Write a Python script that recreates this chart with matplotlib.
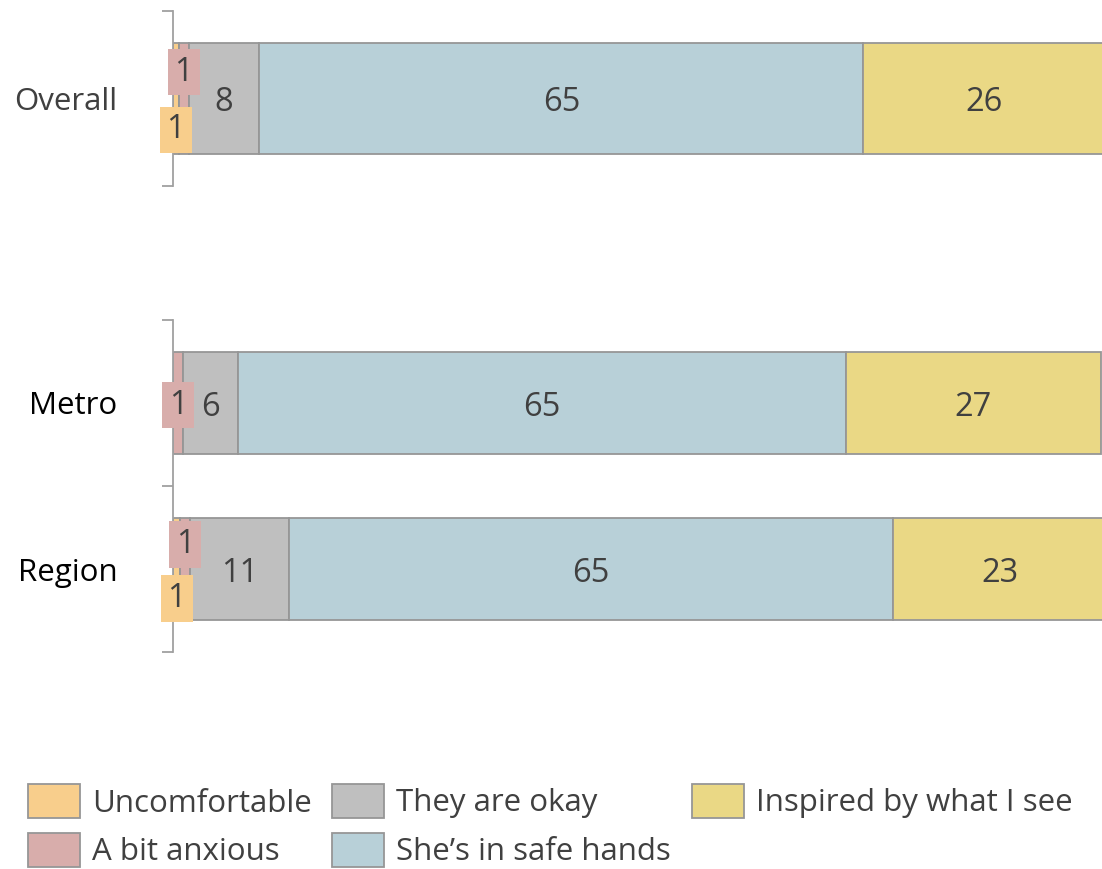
import matplotlib
matplotlib.use("Agg")
import matplotlib.pyplot as plt
import numpy as np

plt.rcParams['font.family'] = ['Open Sans', 'DejaVu Sans']

series = ["Uncomfortable", "A bit anxious", "They are okay", "She\u2019s in safe hands", "Inspired by what I see"]
colors = ["#F8CE8C", "#D8ADAB", "#BFBFBF", "#B8D0D8", "#EAD885"]

top_cats = ["Overall"]
top_vals = {
    "Uncomfortable": [0.6],
    "A bit anxious": [1.1],
    "They are okay": [7.6],
    "She\u2019s in safe hands": [65.0],
    "Inspired by what I see": [26.0],
}

bot_cats = ["Metro", "Region"]
bot_vals = {
    "Uncomfortable": [0.0, 0.8],
    "A bit anxious": [1.1, 1.0],
    "They are okay": [5.9, 10.7],
    "She\u2019s in safe hands": [65.45, 65.0],
    "Inspired by what I see": [27.4, 23.0],
}

W, H = 1102, 869
fig = plt.figure(figsize=(W / 100, H / 100), dpi=100)

FS = 22.5
DFS = 23.5
TXT = "#404040"
EDGE = "#969696"

def px_rect(x0, y0, x1, y1):
    return [x0 / W, 1 - y1 / H, (x1 - x0) / W, (y1 - y0) / H]

ax1 = fig.add_axes(px_rect(173, 11, 1102, 186))
ax2 = fig.add_axes(px_rect(173, 320, 1102, 652))

def draw(ax, cats, vals, bar_h, label_colors):
    n = len(cats)
    ypos = np.arange(n)[::-1]
    left = np.zeros(n)
    handles = []
    for s, c in zip(series, colors):
        v = np.array(vals[s], dtype=float)
        h = ax.barh(ypos, v, left=left, height=bar_h, color=c, edgecolor=EDGE,
                    linewidth=1.3, label=s, clip_on=True)
        handles.append(h)
        left = left + v
    # labels
    for i in range(n):
        small = [k for k, s in enumerate(series) if 0 < vals[s][i] < 3]
        lft = 0.0
        for k, s in enumerate(series):
            v = vals[s][i]
            if v <= 0:
                continue
            cx = lft + v / 2
            lbl = f"{round(v):d}"
            if v < 3:
                if len(small) > 1:
                    order = small.index(k)
                    dy = -0.165 if order == 0 else 0.16
                    dy = dy * (bar_h / 0.62)
                else:
                    dy = 0
                ax.annotate(lbl, (cx, ypos[i] + dy), xytext=(0, -1.5), textcoords="offset points",
                            ha="center", va="center", fontsize=DFS, color=TXT,
                            annotation_clip=False,
                            bbox=dict(boxstyle="square,pad=0.2", fc=colors[k], ec="none"))
            else:
                ax.annotate(lbl, (cx, ypos[i]), xytext=(0, -3), textcoords="offset points",
                            ha="center", va="center", fontsize=DFS, color=TXT)
            lft += v
    ax.set_xlim(0, 100)
    ax.set_ylim(-0.5, n - 0.5)
    ax.set_yticks(ypos)
    ax.set_yticklabels(cats, fontsize=FS)
    for t, col in zip(ax.get_yticklabels(), label_colors):
        t.set_color(col)
    ax.set_yticks(np.arange(n + 1) - 0.5, minor=True)
    ax.tick_params(axis="y", which="major", length=0, pad=40)
    ax.tick_params(axis="y", which="minor", length=8, width=1.3, color="#A0A0A0", direction="out")
    ax.set_xticks([])
    for sp in ["top", "right", "bottom"]:
        ax.spines[sp].set_visible(False)
    ax.spines["left"].set_color("#A0A0A0")
    ax.spines["left"].set_linewidth(1.3)
    return handles

draw(ax1, top_cats, top_vals, 0.63, [TXT])
handles = draw(ax2, bot_cats, bot_vals, 0.62, ["black", "black"])

leg = fig.legend(handles=handles, labels=series, loc="upper left",
                 bbox_to_anchor=(28 / W, 1 - 784 / H), ncol=3, frameon=False,
                 fontsize=FS, handlelength=1.66, handleheight=1.3,
                 handletextpad=0.38, columnspacing=0.67, labelspacing=0.45,
                 borderpad=0, borderaxespad=0)
for t in leg.get_texts():
    t.set_color(TXT)

fig.savefig("out.png", dpi=100)
